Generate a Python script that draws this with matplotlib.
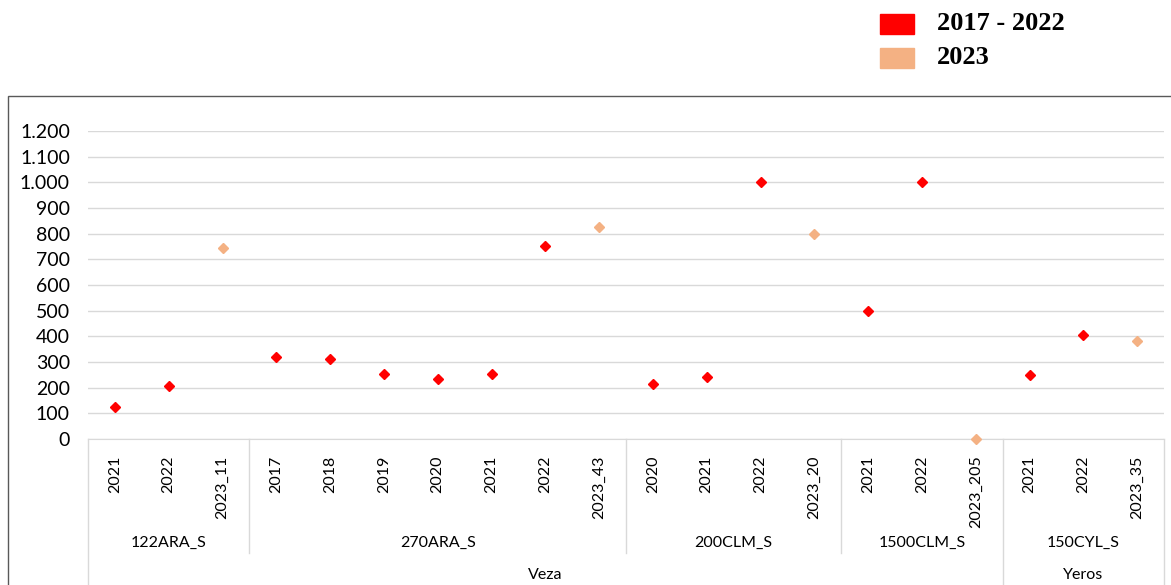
"""
Scatter of yearly values per trial site, with a two-level category axis
(year / site / crop) in the style of an Excel chart.
"""

import matplotlib.pyplot as plt
from matplotlib.patches import Rectangle
from matplotlib.ticker import FuncFormatter
import matplotlib.transforms as mtransforms

plt.rcParams["font.family"] = ["Lato", "DejaVu Sans"]

# data ---------------------------------------------------------------------
crops = ["Veza", "Yeros"]
crop_sites = [4, 1]  # number of sites under each crop
sites = ["122ARA_S", "270ARA_S", "200CLM_S", "1500CLM_S", "150CYL_S"]
labels = [
    ["2021", "2022", "2023_11"],
    ["2017", "2018", "2019", "2020", "2021", "2022", "2023_43"],
    ["2020", "2021", "2022", "2023_20"],
    ["2021", "2022", "2023_205"],
    ["2021", "2022", "2023_35"],
]
values = [
    [125, 205, 745],
    [320, 310, 255, 235, 255, 750, 825],
    [215, 240, 1000, 800],
    [500, 1000, 0],
    [250, 405, 380],
]

RED = "#ff0000"
PEACH = "#f4b183"

fig = plt.figure(figsize=(11.71, 5.85), dpi=100)
W, H = 1171, 585
ax = fig.add_axes([88 / W, 1 - 439 / H, (1164 - 88) / W, (439 - 131) / H])

# flatten categories
tick_labels, xs, ys, cols = [], [], [], []
bounds = [0]
i = 0
for lab, val in zip(labels, values):
    for l, v in zip(lab, val):
        tick_labels.append(l)
        xs.append(i)
        ys.append(v)
        cols.append(PEACH if l.startswith("2023") else RED)
        i += 1
    bounds.append(i)
n = i

for x, y, c in zip(xs, ys, cols):
    ax.plot(x, y, marker="D", ms=5.5, color=c, mec=c, ls="none", clip_on=False, zorder=3)

ax.set_xlim(-0.5, n - 0.5)
ax.set_ylim(0, 1200)
ax.set_yticks(range(0, 1201, 100))
ax.yaxis.set_major_formatter(FuncFormatter(lambda v, p: f"{int(v):,}".replace(",", ".")))
ax.grid(axis="y", color="#d9d9d9", linewidth=1)
ax.set_axisbelow(True)
for s in ["top", "right", "left"]:
    ax.spines[s].set_visible(False)
ax.spines["bottom"].set_color("#d9d9d9")
ax.tick_params(axis="y", length=0, pad=13, labelsize=14)
ax.tick_params(axis="x", length=0, pad=12, labelsize=11.5)
ax.set_xticks(xs)
ax.set_xticklabels(tick_labels, rotation=90, va="top", ha="center")

# category axis dividers and group labels
trans = mtransforms.blended_transform_factory(ax.transData, ax.transAxes)
y_site = (439 - 553) / (439 - 131)
y_bottom = (439 - 600) / (439 - 131)
crop_bounds = [0]
k = 0
for c in crop_sites:
    k += c
    crop_bounds.append(bounds[k])
for b in bounds:
    full = b in crop_bounds
    ax.plot([b - 0.5, b - 0.5], [0, y_bottom if full else y_site], color="#d9d9d9",
            lw=1, transform=trans, clip_on=False)
for s, a, b in zip(sites, bounds[:-1], bounds[1:]):
    ax.text((a + b - 1) / 2, (439 - 543) / (439 - 131), s, transform=trans,
            ha="center", va="center", fontsize=11.5)
for c, a, b in zip(crops, crop_bounds[:-1], crop_bounds[1:]):
    ax.text((a + b - 1) / 2, (439 - 575) / (439 - 131), c, transform=trans,
            ha="center", va="center", fontsize=11.5)

# outer chart border
fig.patches.append(Rectangle((8 / W, -0.1), 1.2, 1.1 - 96 / H, transform=fig.transFigure,
                             fill=False, edgecolor="#595959", lw=1))

# legend (outside the plot area)
legend_items = [("2017 - 2022", RED), ("2023", PEACH)]
for j, (txt, c) in enumerate(legend_items):
    yc = 24 + j * 34
    fig.patches.append(Rectangle((880 / W, 1 - (yc + 10) / H), 34 / W, 20 / H,
                                 transform=fig.transFigure, color=c))
    fig.text(937 / W, 1 - yc / H, txt, fontsize=19, fontweight="bold",
             family="Liberation Serif", va="center", ha="left")

fig.savefig("out.png", dpi=100)
